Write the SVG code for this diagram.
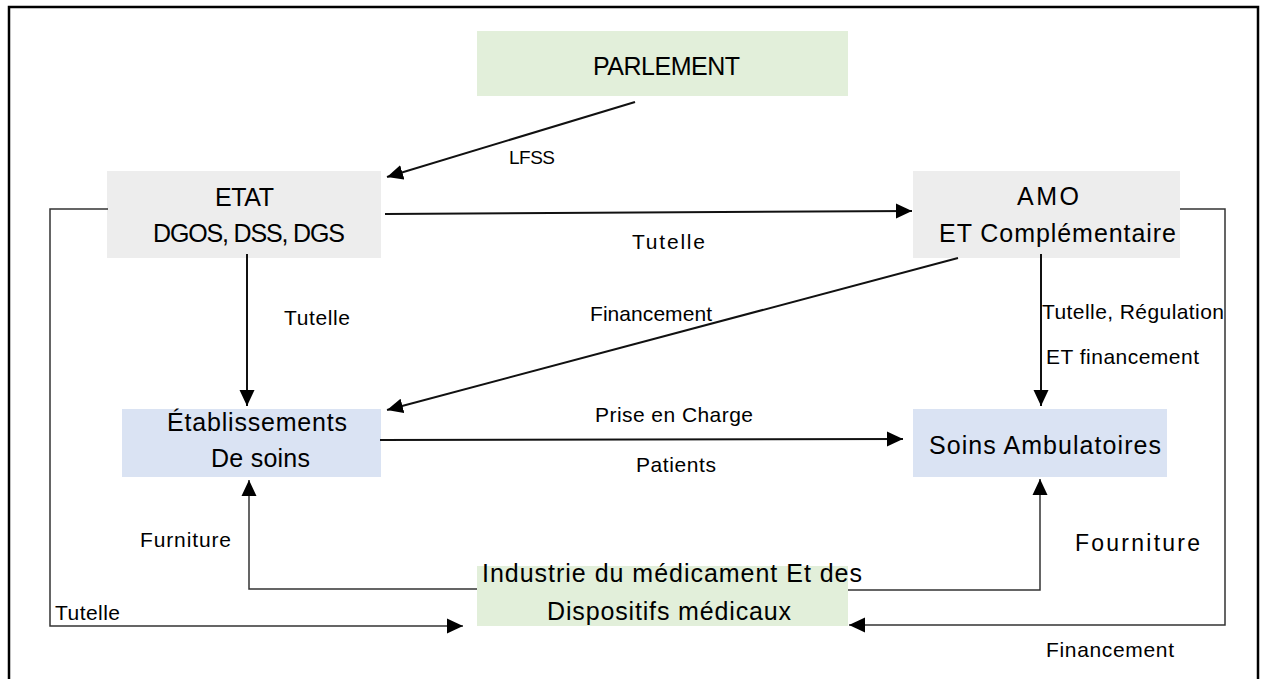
<svg xmlns="http://www.w3.org/2000/svg" width="1261" height="679" viewBox="0 0 1261 679">
  <defs>
    <marker id="arrow" markerUnits="userSpaceOnUse" viewBox="0 0 16 16" refX="16" refY="8" markerWidth="16" markerHeight="16" orient="auto">
      <path d="M0,0.5 L16,8 L0,15.5 z" fill="#000"/>
    </marker>
    <style>
      .node-text { font-family: "Liberation Sans", Arial, sans-serif; font-size: 25px; fill: #000; }
      .lbl { font-family: "Liberation Sans", Arial, sans-serif; font-size: 21px; fill: #000; }
      .main { stroke: #111; stroke-width: 2; fill: none; marker-end: url(#arrow); }
      .thin { stroke: #333; stroke-width: 1.5; fill: none; marker-end: url(#arrow); }
      .green { fill: #e2efda; }
      .gray { fill: #ededed; }
      .blue { fill: #dae3f3; }
    </style>
  </defs>
  <rect x="0" y="0" width="1261" height="679" fill="#fff"/>
  <rect x="9" y="7" width="1249" height="700" fill="none" stroke="#000" stroke-width="2.5"/>

  <g id="parlement">
    <rect class="green" x="477" y="31" width="371" height="65"/>
    <text class="node-text" x="593" y="75" textLength="147">PARLEMENT</text>
  </g>
  <g id="etat">
    <rect class="gray" x="107" y="171" width="274" height="87"/>
    <text class="node-text" x="215" y="206" textLength="59">ETAT</text>
    <text class="node-text" x="153" y="242" textLength="192">DGOS, DSS, DGS</text>
  </g>
  <g id="amo">
    <rect class="gray" x="913" y="171" width="267" height="87"/>
    <text class="node-text" x="1017" y="205" textLength="62">AMO</text>
    <text class="node-text" x="939" y="242" textLength="237">ET Complémentaire</text>
  </g>
  <g id="etablissements">
    <rect class="blue" x="122" y="409" width="259" height="68"/>
    <text class="node-text" x="167" y="431" textLength="180">Établissements</text>
    <text class="node-text" x="211" y="467" textLength="99">De soins</text>
  </g>
  <g id="soins-ambulatoires">
    <rect class="blue" x="913" y="409" width="254" height="68"/>
    <text class="node-text" x="929" y="454" textLength="232">Soins Ambulatoires</text>
  </g>
  <g id="industrie">
    <rect class="green" x="477" y="566" width="371" height="60"/>
    <text class="node-text" x="482" y="582" textLength="380">Industrie du médicament Et des</text>
    <text class="node-text" x="547" y="620" textLength="244">Dispositifs médicaux</text>
  </g>

  <g id="connectors">
    <line class="main" x1="635" y1="102" x2="387" y2="177"/>
    <line class="main" x1="385" y1="214" x2="912" y2="211"/>
    <line class="main" x1="247" y1="254" x2="247" y2="406"/>
    <line class="main" x1="958" y1="258" x2="387" y2="410"/>
    <line class="main" x1="1041" y1="254" x2="1041" y2="406"/>
    <line class="main" x1="380" y1="440" x2="903" y2="439"/>
    <polyline class="thin" points="477,589 249,589 249,480"/>
    <polyline class="thin" points="848,590 1040,590 1040,479"/>
    <polyline class="thin" points="108,209 50,209 50,626 463,626"/>
    <polyline class="thin" points="1180,209 1225,209 1225,625 849,625"/>
  </g>

  <g id="labels">
    <text class="lbl" x="509" y="164" textLength="46" style="font-size:19px">LFSS</text>
    <text class="lbl" x="632" y="249" textLength="73">Tutelle</text>
    <text class="lbl" x="284" y="325" textLength="66">Tutelle</text>
    <text class="lbl" x="590" y="321" textLength="122">Financement</text>
    <text class="lbl" x="1042" y="319" textLength="182">Tutelle, Régulation</text>
    <text class="lbl" x="1046" y="364" textLength="153">ET financement</text>
    <text class="lbl" x="595" y="422" textLength="158">Prise en Charge</text>
    <text class="lbl" x="636" y="472" textLength="80">Patients</text>
    <text class="lbl" x="140" y="547" textLength="91">Furniture</text>
    <text class="lbl" x="1075" y="551" textLength="125" style="font-size:23px">Fourniture</text>
    <text class="lbl" x="55" y="620" textLength="65">Tutelle</text>
    <text class="lbl" x="1046" y="657" textLength="128">Financement</text>
  </g>
</svg>
